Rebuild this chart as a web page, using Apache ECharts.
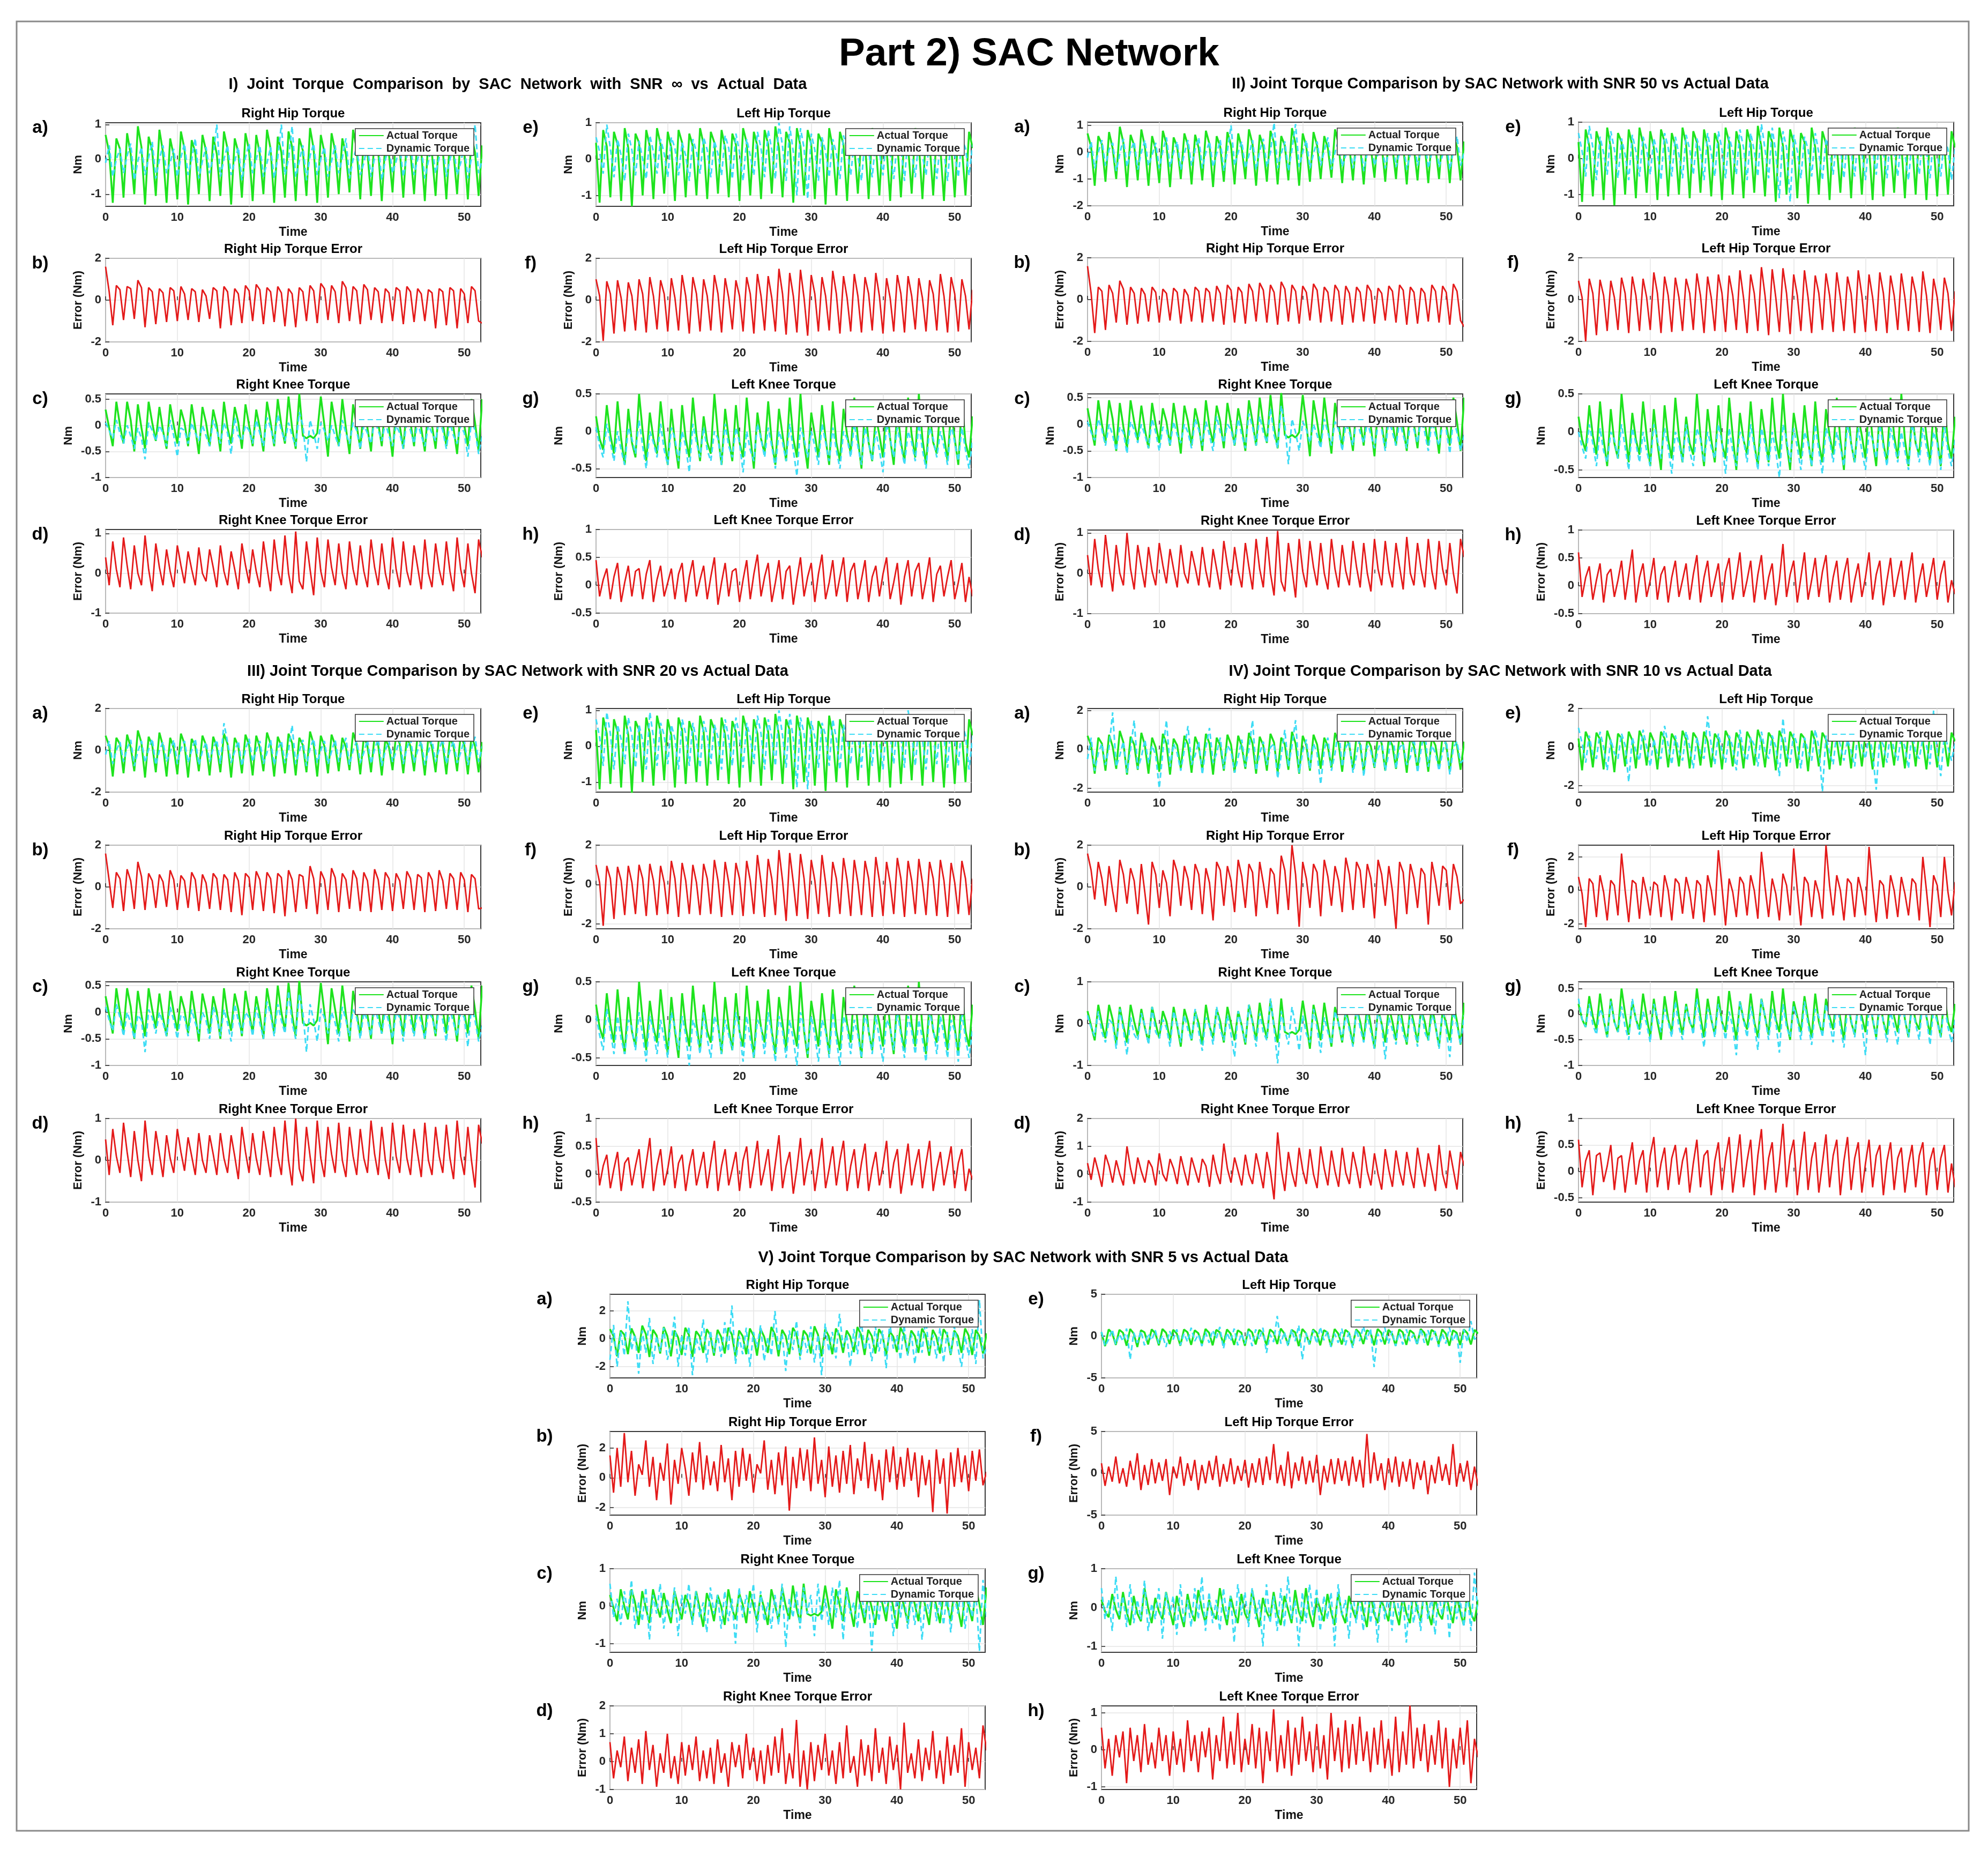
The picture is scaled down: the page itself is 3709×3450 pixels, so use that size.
<!DOCTYPE html>
<html>
<head>
<meta charset="utf-8">
<title>Part 2) SAC Network</title>
<script src="https://cdn.jsdelivr.net/npm/echarts@6/dist/echarts.min.js"></script>
<style>
  html, body { margin: 0; padding: 0; background: #fff; }
  #chart { width: 3709px; height: 3450px; }
</style>
</head>
<body>
<div id="chart"></div>
<script>
// every series is sampled each 0.5 s from t = 0, values in hundredths of a Nm
const t = Array.from({ length: 106 }, (_, i) => i * 0.5)

// actual (measured) torques, the same in all five panels
const actualRightHip = [
  70,20,-125, 60,30,-110, 75,15,-100, 95,35,-130, 65,25,-105,
  85,20,-125, 60,10,-115, 80,30,-130, 55,20,-100, 70,25,-120,
  65,15,-105, 80,30,-130, 60,20,-110, 75,25,-120, 70,15,-100,
  85,30,-125, 65,20,-110, 80,35,-120, 60,25,-105, 90,30,-125,
  70,20,-110, 75,25,-100, 60,15,-95, 85,30,-115, 65,20,-105,
  70,25,-120, 55,15,-95, 80,30,-110, 60,20,-100, 75,25,-120,
  65,15,-105, 70,30,-115, 60,20,-100, 75,25,-115, 65,20,-105,
  40]
const actualLeftHip = [
  45,-120,80, 35,-105,75, 40,-115,85, 30,-130,70, 45,-100,80,
  35,-110,85, 40,-95,75, 30,-115,80, 45,-105,70, 35,-100,85,
  40,-110,75, 45,-95,80, 30,-105,70, 40,-115,85, 45,-100,75,
  35,-110,80, 40,-95,90, 30,-105,75, 45,-120,85, 35,-100,80,
  40,-110,70, 45,-125,85, 30,-100,75, 40,-115,80, 35,-95,70,
  45,-110,85, 40,-100,75, 30,-115,80, 45,-105,70, 35,-95,85,
  40,-110,75, 45,-100,80, 30,-115,70, 40,-105,80, 35,-100,75,
  30]
const actualRightKnee = [
  30,-5,-40, 45,0,-35, 45,10,-50, 40,-5,-45, 45,5,-30,
  35,-10,-45, 40,0,-35, 30,5,-40, 40,-5,-55, 35,5,-40,
  30,0,-50, 45,-5,-35, 35,5,-45, 40,0,-40, 30,-5,-50,
  45,5,-40, 50,0,-35, 55,-5,-45, 60,-20,-25, -20,-25,-15,
  55,0,-60, 45,5,-40, 50,-5,-55, 40,0,-45, 35,-5,-50,
  40,5,-40, 45,-5,-60, 35,0,-45, 40,5,-40, 45,-5,-50,
  40,0,-45, 35,5,-40, 45,-5,-55, 30,0,-40, 50,5,-50,
  50]
const actualLeftKnee = [
  20,-10,-25, 35,-5,-30, 40,-10,-45, 30,-15,-35, 50,0,-40,
  25,-10,-30, 40,-5,-45, 30,-15,-50, 35,-10,-35, 45,-5,-40,
  20,-15,-30, 50,-5,-45, 30,-10,-40, 35,-15,-35, 45,-5,-50,
  25,-10,-30, 40,-15,-45, 30,-5,-40, 45,-10,-35, 50,-15,-50,
  25,-5,-35, 35,-10,-45, 40,-15,-40, 30,-5,-30, 45,-10,-50,
  35,-15,-40, 20,-5,-35, 40,-10,-45, 30,-15,-40, 45,-5,-35,
  50,-10,-45, 25,-15,-30, 35,-5,-40, 30,-10,-45, 40,-15,-35,
  20]

// I) SNR inf
const dynI_RH = [
  -10,40,-50, 0,30,-40, 10,45,-60, -5,35,-45, 5,50,-55,
  0,40,-40, -10,30,-50, 5,45,-45, 0,60,-55, -5,35,-40,
  10,100,-50, 0,40,-45, -5,35,-60, 5,45,-40, 0,40,-50,
  -10,35,-55, 5,100,-45, 0,95,-50, -5,40,-60, 10,45,-45,
  0,35,-50, -5,40,-40, 5,60,-55, 0,35,-45, -10,40,-50,
  5,45,-60, 0,35,-40, -5,40,-50, 10,45,-45, 0,35,-55,
  -5,40,-40, 5,45,-50, 0,35,-45, -10,40,-55, 5,100,-40,
  0]
const errI_RH = [
  160,40,-120, 70,50,-95, 65,55,-90, 95,60,-130, 60,40,-115,
  55,35,-105, 60,45,-100, 65,30,-95, 55,40,-105, 50,20,-90,
  60,45,-135, 65,40,-120, 55,30,-110, 70,45,-100, 75,50,-115,
  60,40,-105, 65,35,-125, 55,30,-130, 60,40,-100, 70,45,-110,
  80,55,-95, 70,40,-110, 90,60,-100, 65,45,-115, 75,50,-95,
  60,40,-110, 55,35,-100, 60,45,-115, 65,40,-105, 55,30,-100,
  50,35,-135, 55,40,-120, 60,45,-135, 55,30,-110, 65,45,-100,
  -110]
const dynI_LH = [
  60,20,-40, 95,30,-50, 55,10,-60, 70,25,-45, 50,0,-55,
  65,20,-40, 55,15,-50, 60,30,-45, 45,10,-60, 55,20,-40,
  60,25,-50, 50,15,-45, 65,30,-55, 70,20,-60, 55,10,-45,
  75,30,-50, 80,25,-55, 100,35,-60, 90,20,-100, 85,30,-110,
  70,25,-60, 60,20,-50, 55,15,-55, 65,30,-45, 50,10,-60,
  60,25,-50, 55,20,-45, 65,15,-55, 50,30,-60, 70,20,-50,
  55,10,-45, 60,25,-55, 50,20,-60, 65,15,-50, 55,30,-45,
  40]
const errI_LH = [
  100,20,-195, 90,30,-160, 95,10,-150, 85,20,-145, 100,30,-155,
  110,20,-140, 95,30,-150, 105,10,-145, 120,20,-160, 110,30,-150,
  100,20,-145, 120,30,-155, 105,10,-140, 95,20,-150, 110,30,-160,
  125,20,-145, 115,10,-150, 150,30,-165, 130,20,-155, 145,10,-170,
  120,30,-150, 110,20,-145, 140,30,-160, 115,10,-150, 125,20,-155,
  110,30,-145, 130,20,-160, 105,10,-150, 120,30,-155, 115,20,-140,
  105,10,-150, 95,30,-145, 125,20,-155, 110,30,-150, 100,20,-140,
  50]
const dynI_RK = [
  5,-10,-25, 10,-15,-35, 0,-20,-45, -5,-25,-65, 5,-10,-30,
  0,-15,-40, 10,-20,-60, -5,-10,-35, 5,-15,-30, 0,-20,-40,
  10,-10,-35, 5,-15,-55, 15,-20,-30, 0,-10,-35, 10,-15,-40,
  15,-5,-35, 20,-10,-30, 5,-20,-40, 25,0,-70, 10,-15,-45,
  5,-10,-30, 0,-20,-40, 10,-15,-35, 5,-10,-45, 0,-15,-35,
  10,-10,-30, 5,-20,-40, 0,-15,-45, 10,-10,-35, 5,-20,-40,
  0,-15,-30, 10,-10,-45, 5,-20,-35, 0,-15,-60, 10,-10,-55,
  -20]
const errI_RK = [
  40,-30,80, 10,-35,90, 20,-40,70, 0,-30,95, 10,-45,75,
  15,-30,60, 5,-35,70, 20,-25,55, 10,-30,65, 0,-20,60,
  15,-35,70, 5,-30,55, 10,-40,75, 20,-25,60, 5,-35,80,
  15,-45,85, 10,-30,95, 0,-50,105, -20,-40,80, 10,-55,90,
  5,-35,85, 15,-30,75, 0,-40,80, 10,-30,70, 5,-35,85,
  15,-30,75, 0,-40,90, 10,-35,80, 5,-30,70, 15,-40,85,
  0,-35,75, 10,-30,80, 5,-45,90, 10,-35,75, 0,-50,85,
  40]
const dynI_LK = [
  5,-20,-35, 10,-15,-40, 0,-25,-45, 5,-10,-30, 15,-20,-50,
  0,-15,-35, 10,-25,-45, 5,-10,-40, 0,-20,-55, 10,-15,-35,
  5,-25,-40, 0,-10,-45, 10,-20,-35, 5,-15,-55, 0,-25,-40,
  10,-10,-35, 5,-20,-50, 0,-15,-40, 10,-25,-60, 5,-10,-35,
  0,-20,-45, 10,-15,-40, 5,-25,-50, 0,-10,-35, 10,-20,-45,
  5,-15,-40, 0,-25,-55, 10,-10,-35, 5,-20,-45, 0,-15,-40,
  10,-25,-50, 5,-10,-35, 0,-20,-45, 10,-15,-40, 5,-25,-50,
  -10]
const errI_LK = [
  45,-20,10, 30,-25,15, 40,-30,5, 35,-20,25, 30,-25,20,
  45,-30,10, 35,-20,5, 30,-25,20, 40,-30,15, 45,-20,10,
  35,-25,15, 50,-35,5, 40,-20,25, 30,-30,10, 45,-25,20,
  55,-20,15, 40,-30,5, 45,-25,25, 35,-35,10, 50,-20,15,
  40,-30,20, 55,-25,5, 45,-20,15, 50,-30,25, 40,-25,10,
  45,-30,15, 35,-20,20, 50,-25,5, 40,-35,15, 45,-20,25,
  40,-25,10, 50,-30,20, 35,-20,15, 45,-25,5, 40,-30,15,
  -20]

// II) SNR 50
const dynII_RH = [
  -20,40,-60, 0,45,-50, 10,35,-70, -5,50,-55, 5,40,-65,
  0,45,-50, -10,35,-60, 5,55,-55, 0,40,-65, -5,45,-50,
  10,55,-60, 0,40,-55, -5,45,-70, 5,100,-50, 0,40,-60,
  -10,45,-65, 5,50,-55, 0,110,-60, -5,40,-70, 10,105,-55,
  0,45,-60, -5,40,-50, 5,55,-65, 0,45,-55, -10,40,-60,
  5,50,-70, 0,40,-50, -5,45,-60, 10,50,-55, 0,40,-65,
  -5,45,-50, 5,50,-60, 0,40,-55, -10,45,-65, 5,60,-50,
  0]
const errII_RH = [
  160,30,-160, 60,40,-145, 70,30,-110, 90,50,-120, 60,30,-115,
  55,25,-105, 60,35,-110, 50,30,-100, 55,35,-115, 50,20,-105,
  60,40,-110, 55,35,-105, 65,30,-120, 70,45,-110, 60,35,-115,
  75,40,-105, 80,45,-110, 70,35,-120, 85,50,-105, 70,40,-115,
  65,35,-100, 75,45,-110, 60,35,-105, 70,40,-120, 65,30,-110,
  60,35,-105, 70,40,-115, 55,30,-100, 65,40,-110, 70,45,-120,
  60,35,-115, 55,30,-105, 70,40,-110, 65,35,-120, 75,40,-100,
  -130]
const dynII_LH = [
  70,20,-50, 90,30,-60, 60,15,-45, 75,25,-55, 55,10,-60,
  65,20,-50, 60,25,-45, 55,15,-60, 70,30,-50, 60,10,-55,
  65,25,-45, 55,20,-60, 70,15,-50, 75,25,-55, 60,20,-45,
  80,30,-60, 70,20,-50, 95,25,-55, 85,15,-110, 75,30,-120,
  65,20,-55, 60,25,-50, 70,15,-60, 55,20,-45, 65,30,-55,
  60,20,-50, 70,15,-60, 55,25,-45, 65,20,-55, 75,30,-50,
  60,15,-60, 55,25,-45, 70,20,-55, 65,15,-50, 60,25,-60,
  30]
const errII_LH = [
  90,10,-200, 100,30,-170, 95,20,-150, 90,10,-145, 105,30,-160,
  110,20,-150, 100,10,-145, 130,30,-160, 110,20,-155, 105,10,-150,
  100,30,-145, 125,20,-160, 110,10,-150, 120,30,-155, 115,20,-145,
  140,10,-160, 120,30,-150, 155,20,-170, 145,10,-155, 150,30,-165,
  120,20,-150, 140,10,-160, 115,30,-145, 125,20,-155, 130,10,-150,
  110,30,-160, 140,20,-155, 120,10,-150, 130,30,-160, 115,20,-145,
  125,10,-150, 110,30,-155, 135,20,-160, 100,10,-145, 105,30,-150,
  40]
const dynII_RK = [
  5,-15,-30, 10,-10,-40, 0,-20,-50, -5,-15,-55, 5,-10,-35,
  0,-20,-45, 10,-15,-50, -5,-10,-40, 5,-20,-35, 0,-15,-45,
  10,-10,-40, 5,-20,-50, 15,-15,-35, 0,-10,-40, 10,-20,-45,
  20,-5,-40, 15,-15,-35, 30,-20,-45, 35,0,-75, 10,-15,-50,
  5,-10,-35, 0,-20,-45, 10,-15,-40, 5,-10,-50, 0,-15,-40,
  10,-15,-35, 5,-20,-45, 0,-10,-50, 10,-15,-40, 5,-20,-45,
  0,-10,-35, 10,-15,-50, 5,-20,-40, 0,-10,-55, 10,-15,-50,
  -20]
const errII_RK = [
  45,-30,85, 10,-35,95, 20,-45,70, 0,-30,100, 10,-40,70,
  15,-35,65, 5,-30,75, 20,-25,60, 10,-35,70, 0,-25,55,
  15,-30,65, 5,-35,60, 10,-40,80, 20,-30,65, 5,-35,75,
  15,-40,85, 10,-35,90, 0,-55,105, -20,-45,75, 10,-60,85,
  5,-35,80, 15,-30,75, 0,-40,85, 10,-35,70, 5,-30,80,
  15,-35,75, 0,-45,85, 10,-30,80, 5,-35,75, 15,-40,90,
  0,-30,75, 10,-35,85, 5,-40,80, 10,-30,75, 0,-50,85,
  40]
const dynII_LK = [
  0,-20,-35, 10,-15,-45, 5,-25,-40, 0,-10,-35, 10,-20,-50,
  5,-15,-40, 0,-25,-45, 10,-10,-35, 5,-20,-55, 0,-15,-40,
  10,-25,-45, 5,-10,-40, 0,-20,-35, 10,-15,-55, 5,-25,-45,
  0,-10,-40, 10,-20,-50, 5,-15,-45, 0,-25,-60, 10,-10,-40,
  5,-20,-50, 0,-15,-45, 10,-25,-55, 5,-10,-40, 0,-20,-45,
  10,-15,-40, 5,-25,-50, 0,-10,-35, 10,-20,-45, 5,-15,-40,
  0,-25,-50, 10,-10,-40, 5,-20,-45, 0,-15,-50, 10,-25,-45,
  -10]
const errII_LK = [
  60,-20,15, 35,-25,10, 40,-30,20, 30,-20,10, 45,-25,20,
  65,-30,15, 40,-20,10, 50,-25,20, 35,-30,15, 45,-20,10,
  40,-25,20, 55,-30,15, 45,-20,10, 40,-30,25, 50,-25,15,
  60,-20,10, 45,-30,20, 55,-25,15, 40,-35,10, 75,-20,20,
  45,-30,15, 60,-25,10, 50,-20,25, 55,-30,15, 45,-25,20,
  50,-30,10, 40,-20,15, 60,-25,20, 45,-35,10, 50,-20,15,
  45,-25,20, 60,-30,10, 40,-20,15, 50,-25,20, 45,-30,10,
  -15]

// III) SNR 20
const dynIII_RH = [
  -20,45,-65, 0,40,-55, 10,50,-75, -5,45,-60, 5,55,-70,
  0,40,-55, -10,50,-65, 5,45,-60, 0,55,-70, -5,40,-55,
  10,50,-65, 130,40,-60, -5,45,-75, 5,55,-55, 0,45,-65,
  -10,50,-70, 5,45,-60, 0,120,-65, -5,50,-75, 10,55,-60,
  0,45,-65, -5,50,-55, 5,60,-70, 0,45,-60, -10,50,-65,
  5,55,-75, 0,45,-55, -5,50,-65, 10,55,-60, 0,45,-70,
  -5,50,-55, 5,55,-65, 0,45,-60, -10,50,-70, 5,65,-55,
  20]
const errIII_RH = [
  160,30,-100, 70,40,-115, 85,30,-105, 120,50,-110, 65,30,-100,
  60,25,-95, 80,35,-110, 55,30,-100, 70,35,-115, 60,20,-105,
  65,40,-110, 60,35,-120, 70,30,-135, 65,45,-110, 75,35,-115,
  70,40,-125, 65,45,-140, 80,35,-120, 60,50,-105, 100,40,-130,
  75,35,-110, 90,45,-120, 65,35,-105, 80,40,-115, 70,30,-120,
  85,35,-110, 70,40,-115, 65,30,-105, 75,40,-110, 60,45,-120,
  70,35,-115, 80,30,-105, 65,40,-110, 70,35,-120, 60,40,-105,
  -100]
const dynIII_LH = [
  75,25,-55, 95,35,-65, 60,20,-50, 80,30,-60, 60,15,-65,
  95,25,-55, 65,30,-50, 60,20,-65, 75,35,-55, 65,15,-60,
  70,30,-50, 60,25,-65, 75,20,-55, 80,30,-60, 65,25,-50,
  85,35,-65, 75,25,-55, 100,30,-60, 90,20,-115, 80,35,-120,
  70,25,-60, 65,30,-55, 75,20,-65, 60,25,-50, 70,35,-60,
  65,25,-55, 75,20,-65, 60,30,-50, 70,25,-60, 100,35,-55,
  65,20,-65, 60,30,-50, 75,25,-60, 70,20,-55, 65,30,-65,
  30]
const errIII_LH = [
  100,10,-210, 95,30,-175, 90,20,-155, 95,10,-150, 100,30,-160,
  105,20,-155, 95,10,-150, 120,30,-165, 110,20,-150, 100,10,-155,
  105,30,-150, 125,20,-165, 115,10,-155, 110,30,-160, 120,20,-150,
  150,10,-165, 130,30,-155, 175,20,-185, 160,10,-160, 155,30,-175,
  125,20,-150, 150,10,-165, 115,30,-150, 135,20,-160, 125,10,-155,
  120,30,-165, 140,20,-160, 115,10,-150, 135,30,-165, 120,20,-150,
  130,10,-155, 115,30,-160, 125,20,-165, 110,10,-150, 120,30,-155,
  30]
const dynIII_RK = [
  10,-15,-35, 15,-10,-45, 0,-20,-50, -5,-15,-75, 5,-10,-40,
  0,-20,-45, 10,-15,-50, -5,-10,-45, 5,-20,-40, 0,-15,-50,
  10,-10,-45, 5,-20,-55, 15,-15,-40, 0,-10,-45, 10,-20,-50,
  20,-5,-45, 15,-15,-40, 40,-20,-50, 35,0,-75, 15,-15,-55,
  5,-10,-40, 0,-20,-55, 10,-15,-45, 5,-10,-50, 0,-15,-45,
  10,-15,-40, 5,-20,-50, 0,-10,-55, 10,-15,-45, 5,-20,-50,
  0,-10,-40, 10,-15,-55, 5,-20,-45, 0,-10,-65, 10,-15,-55,
  -25]
const errIII_RK = [
  50,-35,75, 10,-30,90, 20,-40,70, 0,-50,95, 10,-35,70,
  15,-40,60, 5,-30,75, 20,-25,55, 10,-35,65, 0,-30,60,
  15,-35,65, 5,-30,60, 10,-45,80, 20,-30,65, 5,-35,70,
  15,-40,80, 10,-35,95, 0,-60,100, -20,-50,80, 10,-55,95,
  5,-40,80, 15,-30,90, 0,-40,80, 10,-35,75, 5,-30,95,
  15,-35,80, 0,-45,90, 10,-30,85, 5,-35,75, 15,-40,90,
  0,-35,80, 10,-30,85, 5,-45,95, 10,-35,80, 0,-65,85,
  40]
const dynIII_LK = [
  5,-20,-40, 15,-15,-45, 5,-25,-45, 0,-10,-40, 10,-20,-55,
  5,-15,-45, 0,-25,-50, 10,-10,-40, 5,-20,-60, 0,-15,-45,
  10,-25,-50, 5,-10,-45, 0,-20,-40, 10,-15,-55, 5,-25,-50,
  0,-10,-45, 10,-20,-55, 5,-15,-50, 0,-25,-60, 10,-10,-45,
  5,-20,-55, 0,-15,-50, 10,-25,-60, 5,-10,-45, 0,-20,-50,
  10,-15,-45, 5,-25,-55, 0,-10,-40, 10,-20,-50, 5,-15,-45,
  0,-25,-55, 10,-10,-45, 5,-20,-50, 0,-15,-55, 10,-25,-50,
  -10]
const errIII_LK = [
  65,-20,15, 35,-25,10, 40,-30,20, 30,-20,15, 45,-25,20,
  65,-30,15, 45,-20,10, 50,-25,20, 35,-30,15, 45,-20,10,
  40,-25,20, 60,-30,15, 45,-20,10, 40,-30,25, 50,-25,15,
  60,-20,10, 45,-30,20, 70,-25,15, 40,-35,10, 65,-20,20,
  45,-30,15, 65,-25,10, 50,-20,25, 60,-30,15, 45,-25,20,
  55,-30,10, 40,-20,15, 60,-25,20, 45,-35,10, 55,-20,15,
  45,-25,20, 60,-30,10, 40,-20,15, 50,-25,20, 45,-30,10,
  -10]

// IV) SNR 10
const dynIV_RH = [
  -50,60,-110, -20,30,-80, 10,190,-90, -30,40,-120, 0,150,-100,
  -40,50,-70, 20,-30,-200, -10,150,-90, 30,-20,-110, 0,120,-80,
  -30,40,-130, 10,110,-70, -20,60,-100, 20,-10,-120, -40,50,-90,
  0,150,-110, -20,40,-80, 10,30,-150, -30,100,-90, 20,150,-120,
  -10,50,-100, 30,-20,-180, 0,60,-110, -20,110,-90, 10,40,-120,
  -30,70,-140, 20,-10,-90, 0,50,-110, -20,130,-100, 10,30,-80,
  -40,60,-120, 0,100,-90, 20,-20,-110, -10,50,-130, 10,40,-70,
  -50]
const errIV_RH = [
  160,80,-60, 120,40,-90, 100,-20,-120, 130,60,-80, 90,30,-130,
  110,-30,-180, 120,60,-100, 80,20,-140, 130,70,-90, 100,40,-110,
  110,60,-130, 90,20,-160, 120,80,-90, 100,30,-120, 130,50,-100,
  110,70,-140, 120,20,-100, 90,60,-130, 150,80,-110, 200,60,-190,
  120,40,-100, 110,70,-140, 130,50,-90, 100,30,-120, 140,60,-110,
  120,80,-100, 110,40,-150, 130,60,-90, 100,-20,-200, 120,70,-130,
  110,40,-100, 90,60,-180, 120,30,-90, 100,80,-110, 110,50,-80,
  -60]
const dynIV_LH = [
  100,20,-80, 60,-40,-60, 80,0,-120, 40,-30,-60, 70,10,-180,
  50,-20,-70, 90,0,-100, 40,-40,-60, 110,10,-90, 60,-20,-70,
  80,0,-110, 50,-30,-60, 160,10,-90, 70,-20,-80, 60,0,-120,
  90,-30,-70, 50,10,-100, 80,-20,-60, 60,0,-150, 150,-30,-80,
  70,10,-110, 50,-20,-70, 90,0,-230, 60,-30,-90, 80,10,-70,
  40,-20,-100, 110,0,-60, 70,-30,-220, 50,10,-80, 90,-20,-70,
  60,0,-110, 80,-30,-60, 50,10,-90, 190,-20,-150, 70,0,-70,
  20]
const errIV_LH = [
  80,-20,-220, 70,40,-160, 90,-10,-180, 60,30,-150, 220,0,-190,
  60,40,-170, 80,-20,-150, 50,30,-160, 90,0,-180, 70,40,-140,
  80,-10,-170, 60,30,-190, 90,0,-150, 240,20,-210, 70,-10,-160,
  80,40,-150, 90,0,-170, 230,20,-160, 70,-20,-180, 100,30,-150,
  250,0,-210, 80,40,-160, 60,-20,-170, 270,30,-150, 90,0,-180,
  70,40,-160, 80,-10,-150, 260,20,-190, 60,30,-170, 90,0,-160,
  80,-20,-150, 70,40,-180, 200,0,-220, 90,30,-160, 200,-10,-150,
  50]
const dynIV_RK = [
  20,-10,-30, 30,-20,-45, 10,0,-60, 35,-15,-75, 15,-25,-40,
  25,-5,-50, 40,-20,-35, 10,-10,-55, 30,0,-45, 20,-15,-40,
  35,-20,-65, 15,-5,-50, 40,-15,-40, 20,-25,-80, 30,-10,-45,
  45,0,-55, 25,-20,-40, 60,-10,-95, 30,-15,-50, 40,-5,-65,
  20,-25,-45, 35,-10,-70, 15,-20,-50, 30,0,-40, 25,-15,-55,
  40,-10,-45, 20,-20,-60, 35,-5,-85, 15,-15,-50, 30,-25,-45,
  25,-10,-55, 40,-20,-40, 20,0,-60, 35,-15,-80, 30,-5,-50,
  20]
const errIV_RK = [
  40,-20,60, 10,-45,70, 30,-30,50, 0,-40,100, 20,-35,60,
  10,-30,50, 25,-40,75, 0,-25,55, 20,-35,65, 10,-40,60,
  15,-30,55, 30,-45,70, 5,-35,110, 20,-30,60, 10,-40,70,
  0,-35,75, 15,-50,80, 10,-90,150, 20,-60,80, 5,-45,95,
  15,-35,90, 0,-50,100, 20,-40,85, 10,-45,95, 5,-35,80,
  20,-50,100, 10,-40,75, 0,-55,90, 15,-45,85, 10,-40,80,
  5,-50,95, 20,-45,75, 10,-60,105, 0,-50,85, 15,-55,80,
  30]
const dynIV_LK = [
  30,-10,-25, 20,-20,-40, 10,-5,-45, 25,-15,-35, 15,-25,-50,
  30,-10,-40, 5,-20,-55, 20,-5,-35, 10,-15,-45, 25,-25,-50,
  15,-10,-40, 30,-20,-65, 10,-5,-45, 20,-15,-50, 5,-25,-80,
  25,-10,-45, 15,-20,-70, 30,-5,-50, 10,-15,-75, 20,-25,-45,
  15,-10,-50, 25,-20,-60, 10,-5,-45, 20,-15,-55, 30,-25,-65,
  10,-10,-45, 25,-20,-80, 15,-5,-50, 20,-15,-55, 5,-25,-60,
  25,-10,-45, 15,-20,-50, 30,-5,-60, 10,-15,-45, 20,-25,-55,
  -10]
const errIV_LK = [
  60,-30,20, 40,-45,30, 35,-20,10, 50,-35,25, 30,-40,15,
  55,-25,20, 40,-40,30, 65,-30,15, 45,-35,25, 50,-25,20,
  45,-40,15, 60,-30,30, 40,-45,20, 55,-35,25, 65,-40,15,
  70,-30,20, 60,-45,30, 80,-35,25, 55,-40,15, 90,-30,30,
  60,-45,20, 75,-35,25, 55,-40,15, 70,-30,30, 60,-45,20,
  65,-35,25, 55,-40,15, 60,-30,30, 50,-45,20, 55,-35,25,
  45,-40,15, 50,-30,30, 55,-45,20, 45,-35,25, 50,-40,15,
  -30]

// V) SNR 5
const dynV_RH = [
  -150,100,-200, 50,-120,270, -80,30,-250, 60,-100,150, -180,20,-90,
  80,-150,-40, 160,-200,30, -120,90,-260, 10,-80,140, -170,60,-100,
  30,-130,120, -90,240,-180, 20,-110,80, -200,50,-60, 100,-160,10,
  -120,200,-90, 40,-230,60, -80,130,-150, 20,-100,90, -170,30,-260,
  110,-90,50, -140,180,-60, 30,-200,70, -110,140,-80, 10,-160,90,
  -90,60,-210, 120,-70,20, -150,100,-120, 40,-180,60, -100,150,-90,
  30,-140,80, -170,50,-110, 90,-60,-200, 20,-120,70, -180,280,-140,
  -60]
const errV_RH = [
  150,-100,200, -60,300,-30, 180,-120,90, 20,250,-60, 140,-150,100,
  -20,230,-180, 120,-40,200, 60,-120,170, -30,240,-80, 150,-50,110,
  -90,220,-30, 130,-150,180, -60,200,-20, 160,-100,90, 30,250,-80,
  120,-110,170, -50,210,-220, 140,-70,200, -20,190,-90, 270,-40,120,
  -130,210,-60, 150,-100,180, -40,220,-110, 130,-20,240, -70,160,-90,
  120,-150,190, -30,210,-80, 140,-60,200, -20,170,-130, 150,-50,120,
  -230,190,-40, 130,-240,170, -60,200,-30, 150,-90,180, -20,190,-50,
  40]
const dynV_LH = [
  50,-120,-40, 80,-100,20, -60,90,-280, 40,-80,60, -110,30,-50,
  70,-90,10, -130,60,-40, 80,-110,30, -70,100,-60, 20,-120,50,
  -80,70,-30, 110,-150,40, -60,90,-110, 30,-90,60, -120,80,-40,
  100,-200,20, -70,240,-90, 50,-120,80, -60,130,-280, 40,-100,70,
  -90,110,-50, 60,-130,30, -80,90,-110, 50,-140,80, -60,120,-40,
  90,-370,30, -70,100,-90, 60,-120,40, -100,80,-60, 20,-110,90,
  -80,70,-50, 60,-130,30, -90,100,-60, 40,-320,80, -70,180,-40,
  10]
const errV_LH = [
  120,-150,80, -100,200,-120, 60,-160,150, -80,240,-200, 100,-140,170,
  -120,130,-90, 170,-260,80, -60,200,-150, 120,-90,160, -200,100,-120,
  150,-80,210, -160,110,-100, 180,-130,90, -90,160,-170, 120,-110,180,
  -140,200,-80, 350,-120,100, -150,260,-180, 130,-90,200, -130,150,-110,
  220,-260,90, -110,170,-130, 180,-90,150, -150,200,-100, 160,-170,470,
  -120,250,-90, 120,-200,180, -110,200,-160, 140,-100,170, -190,130,-80,
  150,-250,100, -120,200,-90, 110,-140,350, -160,120,-100, 150,-200,80,
  -150]
const dynV_RK = [
  60,-30,20, -50,40,-20, 70,-60,10, -40,50,-90, 30,-20,60,
  -60,20,-30, 50,-80,30, -20,60,-50, 40,-30,10, -70,50,-20,
  30,-60,40, -40,20,-100, 50,-30,30, -20,60,-70, 40,-40,10,
  -60,30,-50, 60,-110,20, -30,40,-60, 50,-20,30, -80,60,-40,
  20,-50,50, -30,70,-90, 40,-20,10, -60,50,-30, 30,-120,40,
  -40,60,-20, 50,-80,30, -30,40,-60, 20,-50,50, -90,30,-20,
  60,-40,20, -50,40,-70, 30,-20,50, -60,20,-30, 40,-120,70,
  -30]
const errV_RK = [
  70,-60,40, -20,90,-70, 50,-40,80, -80,110,-30, 60,-90,30,
  -40,100,-60, 20,-80,70, -50,60,-30, 90,-70,40, -60,50,-80,
  80,-40,30, -90,70,-20, 60,-60,100, -30,50,-70, 40,-80,60,
  -50,90,-40, 120,-80,30, -60,150,-90, 40,-100,70, -70,60,-30,
  100,-50,40, -80,70,-60, 130,-40,20, -90,80,-50, 60,-70,120,
  -40,50,-80, 90,-30,60, -100,140,-40, 30,-60,80, -70,50,-30,
  110,-60,40, -80,90,-50, 60,-40,120, -90,70,-30, 50,-60,130,
  40]
const dynV_LK = [
  50,-30,20, -60,80,-20, 30,-50,60, -40,20,-30, 70,-60,10,
  -30,50,-80, 40,-20,30, -70,60,-40, 20,-50,50, -30,80,-60,
  40,-40,20, -60,50,-30, 30,-90,60, -20,40,-50, 50,-30,20,
  -100,60,-40, 30,-60,50, -50,80,-30, 20,-100,40, -40,60,-20,
  50,-60,30, -30,40,-100, 60,-20,20, -80,50,-40, 30,-60,70,
  -40,20,-90, 50,-30,40, -60,60,-20, 30,-90,50, -40,20,-60,
  60,-30,30, -70,40,-20, 50,-80,60, -30,20,-50, 40,-60,90,
  -20]
const errV_LK = [
  60,-50,30, -70,40,-20, 50,-90,60, -30,40,-60, 70,-40,20,
  -50,60,-30, 40,-70,50, -40,30,-60, 80,-30,40, -60,50,-20,
  60,-80,40, -30,90,-50, 50,-40,100, -60,30,-40, 70,-50,60,
  -90,50,-30, 110,-60,40, -50,80,-70, 60,-40,90, -30,50,-60,
  70,-50,40, -80,100,-30, 60,-60,80, -50,70,-40, 90,-30,50,
  -60,60,-40, 80,-50,30, -70,90,-60, 50,-40,120, -50,60,-30,
  70,-60,40, -40,80,-50, 60,-100,30, -50,60,-40, 80,-90,30,
  -20]

// labels
const mainTitle = 'Part 2) SAC Network'
const panelHeaders = [
  'I)  Joint  Torque  Comparison  by  SAC  Network  with  SNR  \u221E  vs  Actual  Data',
  'II) Joint Torque Comparison by SAC Network with SNR 50 vs Actual Data',
  'III) Joint Torque Comparison by SAC Network with SNR 20 vs Actual Data',
  'IV) Joint Torque Comparison by SAC Network with SNR 10 vs Actual Data',
  'V) Joint Torque Comparison by SAC Network with SNR 5 vs Actual Data'
]
const subplotTitles = [
  'Right Hip Torque', 'Right Hip Torque Error', 'Right Knee Torque', 'Right Knee Torque Error',
  'Left Hip Torque', 'Left Hip Torque Error', 'Left Knee Torque', 'Left Knee Torque Error'
]
const subplotTags = ['a)', 'b)', 'c)', 'd)', 'e)', 'f)', 'g)', 'h)']
const xTicks = [0, 10, 20, 30, 40, 50]

// y limits and tick values per panel, subplots a..h
const yRanges = [
  [[-1.35, 1.05], [-2, 2], [-1, 0.6], [-1, 1.1], [-1.3, 1], [-2, 2], [-0.62, 0.5], [-0.5, 1]],
  [[-2, 1.12], [-2, 2], [-1, 0.57], [-1, 1.07], [-1.31, 1], [-2, 2], [-0.6, 0.5], [-0.5, 1]],
  [[-2, 2], [-2, 2], [-1, 0.57], [-1, 1], [-1.28, 1.05], [-2.25, 2], [-0.6, 0.5], [-0.5, 1]],
  [[-2.2, 2.1], [-2, 2], [-1, 1], [-1, 2], [-2.33, 2], [-2.3, 2.7], [-1, 0.63], [-0.58, 1]],
  [[-2.8, 3.2], [-2.5, 3.1], [-1.23, 1], [-1, 2], [-5, 5], [-5, 5], [-1.15, 1], [-1.07, 1.19]]
]
const yTicks = [
  [[-1, 0, 1], [-2, 0, 2], [-1, -0.5, 0, 0.5], [-1, 0, 1], [-1, 0, 1], [-2, 0, 2], [-0.5, 0, 0.5], [-0.5, 0, 0.5, 1]],
  [[-2, -1, 0, 1], [-2, 0, 2], [-1, -0.5, 0, 0.5], [-1, 0, 1], [-1, 0, 1], [-2, 0, 2], [-0.5, 0, 0.5], [-0.5, 0, 0.5, 1]],
  [[-2, 0, 2], [-2, 0, 2], [-1, -0.5, 0, 0.5], [-1, 0, 1], [-1, 0, 1], [-2, 0, 2], [-0.5, 0, 0.5], [-0.5, 0, 0.5, 1]],
  [[-2, 0, 2], [-2, 0, 2], [-1, 0, 1], [-1, 0, 1, 2], [-2, 0, 2], [-2, 0, 2], [-1, -0.5, 0, 0.5], [-0.5, 0, 0.5, 1]],
  [[-2, 0, 2], [-2, 0, 2], [-1, 0, 1], [-1, 0, 1, 2], [-5, 0, 5], [-5, 0, 5], [-1, 0, 1], [-1, 0, 1]]
]

// order inside each group: right hip, right knee, left hip, left knee
const actualTorques = [actualRightHip, actualRightKnee, actualLeftHip, actualLeftKnee]
const dynamicTorques = [
  [dynI_RH, dynI_RK, dynI_LH, dynI_LK],
  [dynII_RH, dynII_RK, dynII_LH, dynII_LK],
  [dynIII_RH, dynIII_RK, dynIII_LH, dynIII_LK],
  [dynIV_RH, dynIV_RK, dynIV_LH, dynIV_LK],
  [dynV_RH, dynV_RK, dynV_LH, dynV_LK]
]
const torqueErrors = [
  [errI_RH, errI_RK, errI_LH, errI_LK],
  [errII_RH, errII_RK, errII_LH, errII_LK],
  [errIII_RH, errIII_RK, errIII_LH, errIII_LK],
  [errIV_RH, errIV_RK, errIV_LH, errIV_LK],
  [errV_RH, errV_RK, errV_LH, errV_LK]
]

// page layout (px)
const W = 700
const H = 156
const layouts = [
  { cols: [197, 1112], rows: [229, 482, 735, 988], header: [966, 158] },
  { cols: [2029, 2945], rows: [228, 481, 735, 989], header: [2799, 157] },
  { cols: [197, 1112], rows: [1322, 1577, 1832, 2087], header: [966, 1253] },
  { cols: [2029, 2945], rows: [1322, 1577, 1832, 2087], header: [2799, 1253] },
  { cols: [1138, 2055], rows: [2415, 2671, 2927, 3183], header: [1909, 2347] }
]

const FONT = "'Liberation Sans', Arial, Helvetica, sans-serif"
const GREEN = '#1ee31e'
const CYAN = '#3ddcf5'
const RED = '#e41a1a'
const AXIS = '#262626'

const toXY = arr => arr.map((v, i) => [t[i], v / 100])

const grid = []
const xAxis = []
const yAxis = []
const series = []
const legend = []
const graphic = [
  { type: 'rect', silent: true, z: -10,
    shape: { x: 31, y: 40, width: 3642, height: 3376 },
    style: { fill: 'none', stroke: '#8a8a8a', lineWidth: 3 } },
  { type: 'text', x: 1920, y: 102,
    style: { text: mainTitle, font: `bold 73px ${FONT}`, fill: '#000', textAlign: 'center', textVerticalAlign: 'middle' } }
]

layouts.forEach((lay, p) => {
  graphic.push({ type: 'text', x: lay.header[0], y: lay.header[1],
    style: { text: panelHeaders[p], font: `bold 29px ${FONT}`, fill: '#000', textAlign: 'center', textVerticalAlign: 'middle' } })

  for (let j = 0; j < 8; j++) {
    const col = j < 4 ? 0 : 1
    const row = j % 4
    const isTorque = row % 2 === 0
    const k = col * 2 + Math.floor(row / 2)
    const left = lay.cols[col]
    const top = lay.rows[row]
    const gi = grid.length
    const ticks = yTicks[p][j]
    const hasDecimal = ticks.some(v => !Number.isInteger(v))

    grid.push({ left, top, width: W, height: H, show: true,
      backgroundColor: '#fff', borderColor: '#3a3a3a', borderWidth: 2 })

    xAxis.push({
      type: 'value', gridIndex: gi, min: 0, max: 52.3,
      axisLine: { show: false },
      axisTick: { show: true, inside: true, length: 7, customValues: xTicks, lineStyle: { color: AXIS, width: 1.5 } },
      axisLabel: { customValues: xTicks, fontSize: 22, fontWeight: 'bold', color: AXIS, fontFamily: FONT, margin: 10 },
      splitLine: { show: true, lineStyle: { color: '#e4e4e4', width: 1.5 } },
      name: 'Time', nameLocation: 'middle', nameGap: 37,
      nameTextStyle: { fontSize: 23, fontWeight: 'bold', color: '#111', fontFamily: FONT }
    })

    yAxis.push({
      type: 'value', gridIndex: gi, min: yRanges[p][j][0], max: yRanges[p][j][1],
      axisLine: { show: false },
      axisTick: { show: true, inside: true, length: 7, customValues: ticks, lineStyle: { color: AXIS, width: 1.5 } },
      axisLabel: { customValues: ticks, fontSize: 22, fontWeight: 'bold', color: AXIS, fontFamily: FONT, margin: 8 },
      splitLine: { show: true, lineStyle: { color: '#e4e4e4', width: 1.5 } },
      name: isTorque ? 'Nm' : 'Error (Nm)', nameLocation: 'middle', nameGap: hasDecimal ? 58 : 40,
      nameTextStyle: { fontSize: 22, fontWeight: 'bold', color: '#111', fontFamily: FONT }
    })

    if (isTorque) {
      series.push({
        type: 'line', name: 'Actual Torque', xAxisIndex: gi, yAxisIndex: gi,
        data: toXY(actualTorques[k]), symbol: 'none', animation: false, z: 2,
        lineStyle: { color: GREEN, width: 3.5 }, itemStyle: { color: GREEN }
      })
      series.push({
        type: 'line', name: 'Dynamic Torque', xAxisIndex: gi, yAxisIndex: gi,
        data: toXY(dynamicTorques[p][k]), symbol: 'none', animation: false, z: 3,
        lineStyle: { color: CYAN, width: 3, type: [10, 6] }, itemStyle: { color: CYAN }
      })
      legend.push({
        data: ['Actual Torque', 'Dynamic Torque'], orient: 'vertical', selectedMode: false,
        right: 3709 - (left + W) + 13, top: top + 11,
        backgroundColor: '#fff', borderColor: '#333', borderWidth: 1.5,
        padding: [3, 8, 3, 6], itemGap: 4, itemWidth: 46, itemHeight: 14,
        itemStyle: { opacity: 0 },
        textStyle: { fontSize: 20, fontWeight: 'bold', color: '#222', fontFamily: FONT }
      })
    } else {
      series.push({
        type: 'line', name: 'Error', xAxisIndex: gi, yAxisIndex: gi,
        data: toXY(torqueErrors[p][k]), symbol: 'none', animation: false, z: 2,
        lineStyle: { color: RED, width: 2.8 }, itemStyle: { color: RED }
      })
    }

    graphic.push({ type: 'text', x: left + W / 2, y: top - 17,
      style: { text: subplotTitles[j], font: `bold 24px ${FONT}`, fill: '#000', textAlign: 'center', textVerticalAlign: 'middle' } })
    graphic.push({ type: 'text', x: left - 122, y: top + 10,
      style: { text: subplotTags[j], font: `bold 33px ${FONT}`, fill: '#000', textAlign: 'center', textVerticalAlign: 'middle' } })
  }
})

const chart = echarts.init(document.getElementById('chart'), null, { renderer: 'canvas' })
chart.setOption({
  animation: false,
  backgroundColor: '#fff',
  grid, xAxis, yAxis, series, legend, graphic
})
</script>
</body>
</html>
